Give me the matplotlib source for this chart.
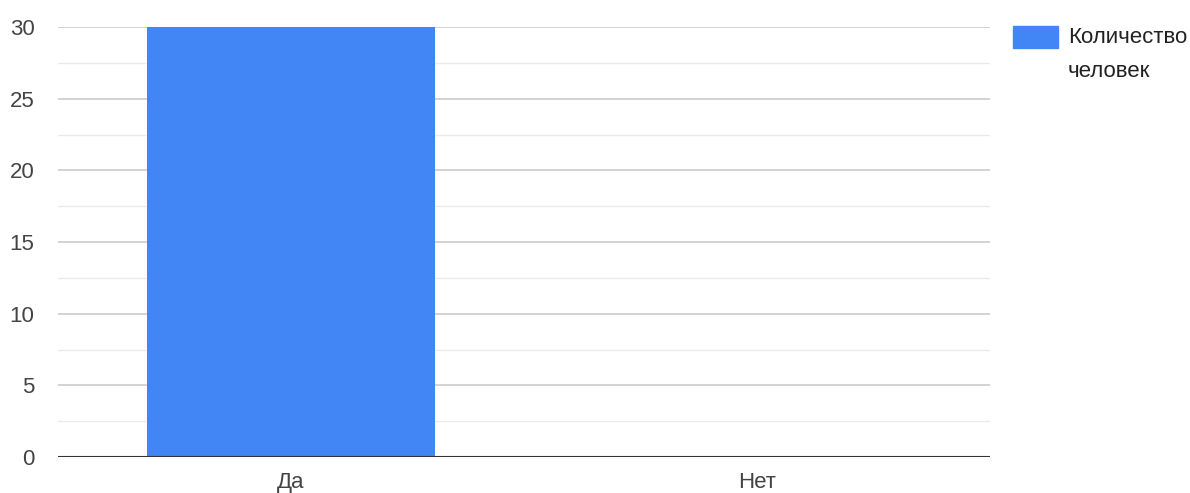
import matplotlib
matplotlib.use("Agg")
import matplotlib.pyplot as plt
from matplotlib.patches import Rectangle

categories = ["Да", "Нет"]
values = [30, 0]
series_name = "Количество\nчеловек"
yticks = [0, 5, 10, 15, 20, 25, 30]

plt.rcParams['font.family'] = ['Liberation Sans', 'DejaVu Sans']

fig = plt.figure(figsize=(11.9, 4.93), dpi=100)
ax = fig.add_axes([58/1190, 36/493, 932/1190, 430/493])

x = list(range(len(categories)))
ax.bar(x, values, width=0.618, color="#4285f4", zorder=3)

ax.set_xlim(-0.5, len(categories) - 0.5)
ax.set_ylim(0, 30)
ax.set_yticks(yticks)
ax.set_xticks(x)
ax.set_xticklabels(categories)

for y in yticks[1:]:
    ax.axhline(y, color="#cccccc", lw=1.2, zorder=1)
for y in [2.5, 7.5, 12.5, 17.5, 22.5, 27.5]:
    ax.axhline(y, color="#ebebeb", lw=1.0, zorder=1)
ax.axhline(0, color="#333333", lw=1.5, zorder=4)

for s in ax.spines.values():
    s.set_visible(False)
ax.tick_params(axis='both', which='both', length=0, labelsize=16, colors="#444444")
ax.tick_params(axis='y', pad=17)
ax.tick_params(axis='x', pad=11)

# legend
fig.patches.append(Rectangle((1013/1190, 1 - 48/493), 45/1190, 22/493,
                             transform=fig.transFigure, color="#4285f4"))
fig.text(1068/1190, 1 - 27/493, series_name, fontsize=16, color="#222222",
         va='top', ha='left', linespacing=1.8)

fig.savefig("out.png", dpi=100)
